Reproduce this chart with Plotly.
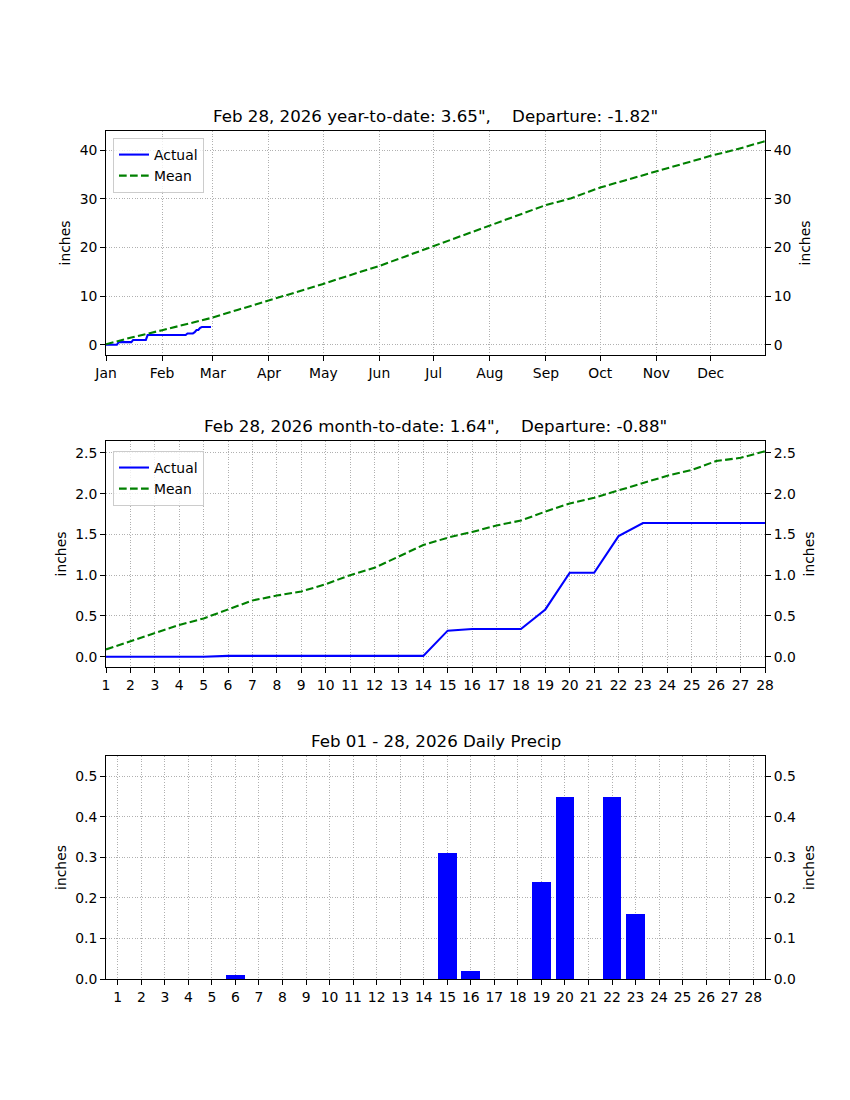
import numpy as np
import pandas as pd
import plotly.graph_objects as go

# ---------------- data ----------------
year = 2026
jan_days = list(range(1, 32))
jan_precip = [0, 0, 0, 0, 0, 0, 0, 0.55, 0, 0, 0, 0, 0, 0, 0, 0.45, 0,
              0, 0, 0, 0, 0, 0, 1.01, 0, 0, 0, 0, 0, 0, 0]
feb_days = list(range(1, 29))
feb_precip = [0, 0, 0, 0, 0, 0.01, 0, 0, 0, 0, 0, 0, 0, 0, 0.31, 0.02, 0,
              0, 0.24, 0.45, 0, 0.45, 0.16, 0, 0, 0, 0, 0]
feb_mean_mtd = [0.09, 0.19, 0.29, 0.39, 0.47, 0.58, 0.69, 0.75, 0.80, 0.89,
                1.00, 1.09, 1.23, 1.37, 1.46, 1.53, 1.61, 1.67, 1.78, 1.88,
                1.95, 2.04, 2.13, 2.22, 2.29, 2.40, 2.44, 2.52]
mean_ytd_dates = ["2026-01-01", "2026-01-15", "2026-02-01", "2026-02-15",
                  "2026-03-01", "2026-03-15", "2026-04-01", "2026-04-15",
                  "2026-05-01", "2026-05-15", "2026-06-01", "2026-06-15",
                  "2026-07-01", "2026-07-15", "2026-08-01", "2026-08-15",
                  "2026-09-01", "2026-09-15", "2026-10-01", "2026-10-15",
                  "2026-11-01", "2026-11-15", "2026-12-01", "2026-12-15",
                  "2026-12-31"]
mean_ytd_vals = [0.1, 1.5, 3.0, 4.3, 5.6, 7.2, 9.1, 10.8, 12.5, 14.2, 16.2,
                 18.1, 20.3, 22.2, 24.6, 26.5, 28.7, 30.1, 32.3, 33.8, 35.6,
                 37.1, 38.8, 40.1, 41.8]
month_ticks = ["2026-01-01", "2026-02-01", "2026-03-01", "2026-04-01",
               "2026-05-01", "2026-06-01", "2026-07-01", "2026-08-01",
               "2026-09-01", "2026-10-01", "2026-11-01", "2026-12-01"]
month_labels = ["Jan", "Feb", "Mar", "Apr", "May", "Jun", "Jul", "Aug",
                "Sep", "Oct", "Nov", "Dec"]
titles = ['Feb 28, 2026 year-to-date: 3.65",    Departure: -1.82"',
          'Feb 28, 2026 month-to-date: 1.64",    Departure: -0.88"',
          'Feb 01 - 28, 2026 Daily Precip']

# ---------------- derived ----------------
ytd_dates = [f"2026-01-{d:02d}" for d in jan_days] + [f"2026-02-{d:02d}" for d in feb_days]
ytd_actual = np.cumsum(jan_precip + feb_precip)
mtd_actual = np.cumsum(feb_precip)

BLUE = "#0000ff"
GREEN = "#008000"
FONT = "DejaVu Sans"
FS = 13.9     # 10pt at 100 dpi
TFS = 16.67   # 12pt at 100 dpi
LW = 2.08

W, H = 850, 1100
OFF = 8  # page body offset
L, R, T, B = 106, 765, 131, 979
ph = B - T

def dom(top, bot):
    return [(B - bot) / ph, (B - top) / ph]

d1 = dom(131, 355)
d2 = dom(441, 667)
d3 = dom(756, 979)

fig = go.Figure()

DASH = "7.7px,3.3px"

# top panel
fig.add_trace(go.Scatter(x=ytd_dates, y=ytd_actual, mode="lines", name="Actual",
                         line=dict(color=BLUE, width=LW), xaxis="x", yaxis="y", legend="legend"))
fig.add_trace(go.Scatter(x=mean_ytd_dates, y=mean_ytd_vals, mode="lines", name="Mean",
                         line=dict(color=GREEN, width=LW, dash=DASH), xaxis="x", yaxis="y",
                         legend="legend"))
fig.add_trace(go.Scatter(x=mean_ytd_dates, y=mean_ytd_vals, mode="lines", showlegend=False,
                         opacity=0, hoverinfo="skip", xaxis="x", yaxis="y4"))

# middle panel
fig.add_trace(go.Scatter(x=feb_days, y=mtd_actual, mode="lines", name="Actual",
                         line=dict(color=BLUE, width=LW), xaxis="x2", yaxis="y2", legend="legend2"))
fig.add_trace(go.Scatter(x=feb_days, y=feb_mean_mtd, mode="lines", name="Mean",
                         line=dict(color=GREEN, width=LW, dash=DASH), xaxis="x2", yaxis="y2",
                         legend="legend2"))
fig.add_trace(go.Scatter(x=feb_days, y=feb_mean_mtd, mode="lines", showlegend=False,
                         opacity=0, hoverinfo="skip", xaxis="x2", yaxis="y5"))

# bottom panel
fig.add_trace(go.Bar(x=feb_days, y=feb_precip, width=0.8, marker=dict(color=BLUE, line_width=0),
                     showlegend=False, xaxis="x3", yaxis="y3"))
fig.add_trace(go.Scatter(x=feb_days, y=feb_precip, mode="lines", showlegend=False,
                         opacity=0, hoverinfo="skip", xaxis="x3", yaxis="y6"))

tickfont = dict(family=FONT, size=FS, color="black")
titlefont = dict(family=FONT, size=FS, color="black")
common_x = dict(showline=True, linecolor="black", linewidth=1, mirror=True,
                ticks="outside", ticklen=4.9, tickcolor="black", tickfont=tickfont,
                showgrid=True, gridcolor="#b0b0b0", griddash="1px,1.6px", gridwidth=0.8,
                zeroline=False)
common_y = dict(common_x)
common_y["title"] = dict(text="inches", font=titlefont, standoff=5)
right_y = dict(showline=False, ticks="outside", ticklen=4.9, tickcolor="black",
               tickfont=tickfont, showgrid=False, zeroline=False, side="right",
               title=dict(text="inches", font=titlefont, standoff=9))

yr1 = [-2.09, 43.9]
yr2 = [-0.126, 2.646]
yr3 = [0, 0.55]
yt1 = [0, 10, 20, 30, 40]
yt2 = [0, 0.5, 1.0, 1.5, 2.0, 2.5]
yt3 = [0, 0.1, 0.2, 0.3, 0.4, 0.5]

fig.update_layout(
    width=W, height=H,
    margin=dict(l=L - OFF, r=W - R + OFF, t=T - OFF, b=H - B + OFF),
    paper_bgcolor="white", plot_bgcolor="white",
    font=dict(family=FONT, size=FS, color="black"),
    bargap=0,
    xaxis=dict(common_x, domain=[0, 1], anchor="y", type="date",
               range=["2026-01-01", "2026-12-31"], tickvals=month_ticks, ticktext=month_labels),
    yaxis=dict(common_y, domain=d1, anchor="x", range=yr1, tickvals=yt1),
    yaxis4=dict(right_y, overlaying="y", anchor="x", range=yr1, tickvals=yt1),
    xaxis2=dict(common_x, domain=[0, 1], anchor="y2", range=[1, 28], tickvals=feb_days),
    yaxis2=dict(common_y, domain=d2, anchor="x2", range=yr2, tickvals=yt2, tickformat=".1f"),
    yaxis5=dict(right_y, overlaying="y2", anchor="x2", range=yr2, tickvals=yt2, tickformat=".1f"),
    xaxis3=dict(common_x, domain=[0, 1], anchor="y3", range=[0.5, 28.5], tickvals=feb_days),
    yaxis3=dict(common_y, domain=d3, anchor="x3", range=yr3, tickvals=yt3, tickformat=".1f"),
    yaxis6=dict(right_y, overlaying="y3", anchor="x3", range=yr3, tickvals=yt3, tickformat=".1f"),
    legend=dict(x=0.0106, y=0.9917, xanchor="left", yanchor="top",
                bgcolor="rgba(255,255,255,0.8)", bordercolor="#cccccc", borderwidth=1,
                font=dict(family=FONT, size=FS), tracegroupgap=0),
    legend2=dict(x=0.0106, y=(B - 451) / ph, xanchor="left", yanchor="top",
                 bgcolor="rgba(255,255,255,0.8)", bordercolor="#cccccc", borderwidth=1,
                 font=dict(family=FONT, size=FS), tracegroupgap=0),
)

for t, d in zip(titles, [d1, d2, d3]):
    fig.add_annotation(text=t.replace("  ", "\u00a0\u00a0"), xref="paper", yref="paper",
                       x=0.5, y=d[1], xanchor="center", yanchor="bottom", yshift=3,
                       showarrow=False, font=dict(family=FONT, size=TFS, color="black"))

fig.write_html("out.html")
